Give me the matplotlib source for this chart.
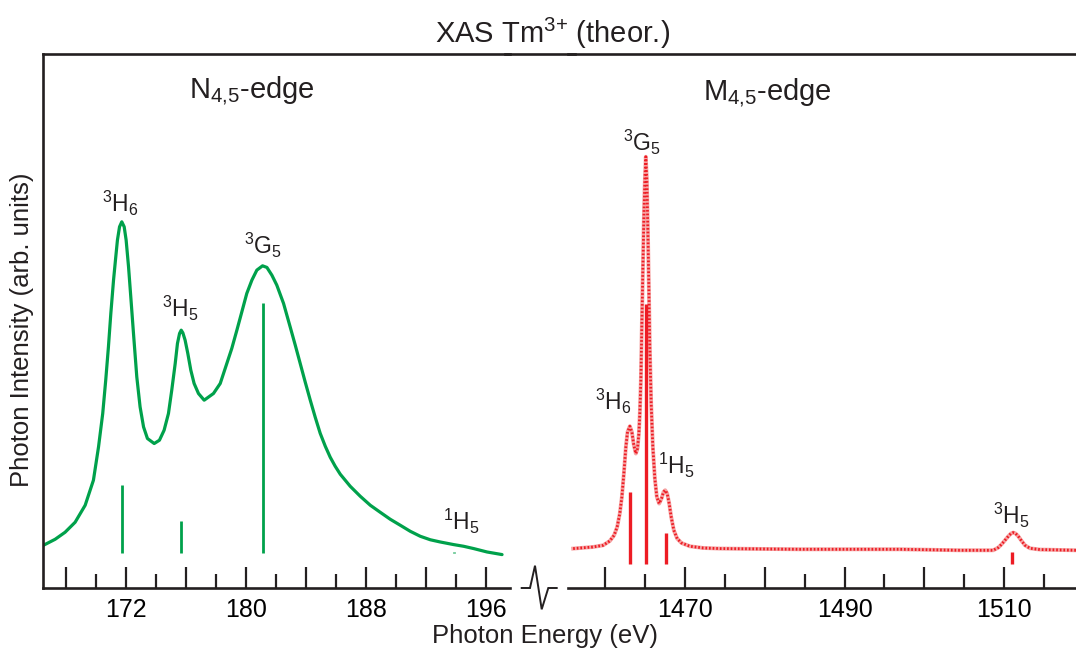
import matplotlib
matplotlib.use("Agg")
import matplotlib.pyplot as plt
from matplotlib.lines import Line2D
from matplotlib.ticker import FixedLocator, FixedFormatter

plt.rcParams["font.family"] = ["Liberation Sans", "DejaVu Sans"]
plt.rcParams["mathtext.fontset"] = "custom"
plt.rcParams["mathtext.rm"] = "Liberation Sans"
plt.rcParams["mathtext.it"] = "Liberation Sans:italic"
plt.rcParams["mathtext.bf"] = "Liberation Sans:bold"

INK = "#231f20"
GREEN = "#00a14b"
RED = "#ed1c24"

# ---- N4,5-edge spectrum (photon energy in eV, intensity in arb. units) ----
n_energy = [166.51, 167.29, 167.95, 168.62, 169.29, 169.84, 170.18, 170.46,
            170.66, 170.84, 171.00, 171.18, 171.33, 171.44, 171.58, 171.73,
            171.89, 172.02, 172.18, 172.33, 172.51, 172.73, 172.95, 173.18,
            173.44, 173.89, 174.24, 174.55, 174.84, 175.06, 175.29, 175.44,
            175.58, 175.69, 175.80, 175.95, 176.13, 176.33, 176.55, 176.84,
            177.22, 177.84, 178.29, 178.73, 179.06, 179.40, 179.73, 180.06,
            180.40, 180.73, 181.11, 181.40, 181.73, 182.06, 182.51, 182.95,
            183.29, 183.62, 183.95, 184.29, 184.62, 184.95, 185.29, 185.62,
            185.95, 186.29, 186.95, 187.62, 188.29, 188.95, 189.62, 190.29,
            190.95, 191.62, 192.29, 192.95, 193.84, 194.51, 195.18, 196.07,
            197.07]
n_intensity = [43, 49, 56, 66, 83, 108, 141.3, 174.7,
               208, 241.3, 274.7, 308, 331.3, 348, 361.3, 366.3,
               361.3, 348, 321.3, 291.3, 254.7, 211.3, 181.3, 161.3,
               149.7, 144.7, 148, 158, 174.7, 198, 224.7, 244.7,
               254.7, 258, 255.3, 248, 234.7, 218, 204.7, 194.7,
               188, 194.7, 204.7, 224.7, 239.7, 258, 276.3, 294.7,
               308, 318, 322.3, 320.7, 313, 303, 284.7, 261.3,
               243, 224.7, 206.3, 188, 171, 155, 142, 131,
               122, 114, 102, 92, 83, 76, 69, 63,
               57, 52, 48.5, 46.3, 43.7, 42, 39.7, 36.3,
               33.7]

# multiplet lines (sticks) of the N4,5-edge
n_stick_energy = [171.73, 175.67, 181.13, 193.9]
n_stick_top = [103, 67, 284.7, 36.5]
n_stick_base = 35

n_peak_labels = [r"$^{3}$H$_{6}$", r"$^{3}$H$_{5}$", r"$^{3}$G$_{5}$", r"$^{1}$H$_{5}$"]
n_label_energy = [171.65, 175.62, 181.12, 194.35]
n_label_height = [384.5, 279.5, 342.5, 66.5]

# ---- M4,5-edge spectrum ----
m_energy = [1456.01, 1458.51, 1459.77, 1460.60, 1461.14, 1461.52, 1461.85,
            1462.11, 1462.36, 1462.61, 1462.82, 1463.11, 1463.36, 1463.61,
            1463.86, 1464.07, 1464.24, 1464.36, 1464.49, 1464.61, 1464.74,
            1464.86, 1464.99, 1465.11, 1465.24, 1465.36, 1465.49, 1465.61,
            1465.78, 1465.99, 1466.24, 1466.49, 1466.78, 1467.08, 1467.33,
            1467.54, 1467.79, 1468.04, 1468.29, 1468.62, 1469.04, 1469.58,
            1470.63, 1472.30, 1474.39, 1484.41, 1496.94, 1504.46, 1508.64,
            1509.26, 1509.68, 1510.10, 1510.52, 1510.85, 1511.14, 1511.44,
            1511.77, 1512.19, 1512.61, 1513.23, 1514.49, 1519.00]
m_intensity = [39.7, 41.3, 43, 47.3, 53, 61.3, 74.7,
               91.3, 114.7, 141.3, 156.3, 162, 156.3, 143,
               134.7, 139.7, 154.7, 174.7, 208, 261.3, 318,
               368, 408, 431.3, 408, 361.3, 301.3, 241.3,
               184.7, 141.3, 109.7, 91.3, 84.7, 89.7, 96.3,
               98, 94.7, 84.7, 71.3, 58, 49.7, 45.3,
               42, 40.3, 39.7, 39, 39, 38, 38,
               40.7, 44, 48, 52, 54.7, 55.7, 54.7,
               52, 47.3, 43, 40, 38.7, 38]

m_stick_energy = [1463.11, 1465.11, 1467.62, 1511.0]
m_stick_top = [96.3, 283.7, 55.7, 36.3]
m_stick_base = 24

m_peak_labels = [r"$^{3}$H$_{6}$", r"$^{3}$G$_{5}$", r"$^{1}$H$_{5}$", r"$^{3}$H$_{5}$"]
m_label_energy = [1461.10, 1464.67, 1469.0, 1510.94]
m_label_height = [187, 446, 123, 73]

# ---- axis ticks ----
n_major = [168, 172, 176, 180, 184, 188, 192, 196]
n_major_labels = ["", "172", "", "180", "", "188", "", "196"]
n_minor = [170, 174, 178, 182, 186, 190, 194]
m_major = [1460, 1470, 1480, 1490, 1500, 1510]
m_major_labels = ["", "1470", "", "1490", "", "1510"]
m_minor = [1465, 1475, 1485, 1495, 1505, 1515]

W, H = 1076, 655
fig = plt.figure(figsize=(W / 100, H / 100), dpi=100)


def fx(px):
    return px / W


def fy(py):
    return 1 - py / H


bottom_px, top_px = 588.3, 54.0
ax_n = fig.add_axes([fx(43.3), fy(bottom_px), fx(510) - fx(43.3), fy(top_px) - fy(bottom_px)])
ax_m = fig.add_axes([fx(568.3), fy(bottom_px), fx(1080) - fx(568.3), fy(top_px) - fy(bottom_px)])

for ax in (ax_n, ax_m):
    ax.set_ylim(0, 534)
    ax.set_yticks([])
    ax.spines["right"].set_visible(False)
    for s in ("top", "bottom", "left"):
        ax.spines[s].set_linewidth(1.9)
        ax.spines[s].set_color(INK)
    ax.tick_params(axis="x", which="major", direction="in", length=15, width=1.6,
                   color=INK, labelsize=18, labelcolor="black", pad=7)
    ax.tick_params(axis="x", which="minor", direction="in", length=10, width=1.6,
                   color=INK)
    ax.patch.set_alpha(0)
ax_m.spines["left"].set_visible(False)

ax_n.set_xlim(166.5, 197.6)
ax_n.xaxis.set_major_locator(FixedLocator(n_major))
ax_n.xaxis.set_major_formatter(FixedFormatter(n_major_labels))
ax_n.xaxis.set_minor_locator(FixedLocator(n_minor))

ax_m.set_xlim(1455.4, 1519.5)
ax_m.xaxis.set_major_locator(FixedLocator(m_major))
ax_m.xaxis.set_major_formatter(FixedFormatter(m_major_labels))
ax_m.xaxis.set_minor_locator(FixedLocator(m_minor))

# N4,5-edge curve and sticks
ax_n.plot(n_energy, n_intensity, color=GREEN, lw=2.3, solid_capstyle="round",
          solid_joinstyle="round")
ax_n.vlines(n_stick_energy, n_stick_base, n_stick_top, color=GREEN, lw=2.0)
for lab, e, h in zip(n_peak_labels, n_label_energy, n_label_height):
    ax_n.text(e, h, lab, ha="center", va="center", fontsize=16.5, color=INK)

# M4,5-edge curve (speckled red) and sticks
ax_m.plot(m_energy, m_intensity, color="#f6a3a3", lw=2.8, solid_joinstyle="round")
ax_m.plot(m_energy, m_intensity, color=RED, lw=2.0, linestyle=(0, (0.6, 0.7)))
ax_m.vlines(m_stick_energy, m_stick_base, m_stick_top, color=RED, lw=2.4)
for lab, e, h in zip(m_peak_labels, m_label_energy, m_label_height):
    ax_m.text(e, h, lab, ha="center", va="center", fontsize=16.5, color=INK)

# top frame line bridging the two panels
fig.add_artist(Line2D([fx(505), fx(575)], [fy(top_px), fy(top_px)], color=INK, lw=1.9))

# axis break symbol
brk_x = [521.7, 530.0, 535.0, 541.7, 548.3, 556.7]
brk_y = [588.0, 588.0, 565.7, 609.3, 588.0, 588.0]
fig.add_artist(Line2D([fx(v) for v in brk_x], [fy(v) for v in brk_y],
                      color=INK, lw=1.4, solid_joinstyle="miter"))

fig.text(fx(553), fy(33), r"XAS Tm$^{3{+}}$ (theor.)", ha="center", va="center",
         fontsize=21, color=INK)
fig.text(fx(252), fy(90), r"N$_{4{,}5}$-edge", ha="center", va="center",
         fontsize=21, color=INK)
fig.text(fx(767), fy(92), r"M$_{4{,}5}$-edge", ha="center", va="center",
         fontsize=21, color=INK)
fig.text(fx(545), fy(636), "Photon Energy (eV)", ha="center", va="center",
         fontsize=18.5, color=INK)
fig.text(fx(22), fy(330), "Photon Intensity (arb. units)", ha="center", va="center",
         rotation=90, fontsize=18.5, color=INK)

fig.savefig("out.png", dpi=100)
